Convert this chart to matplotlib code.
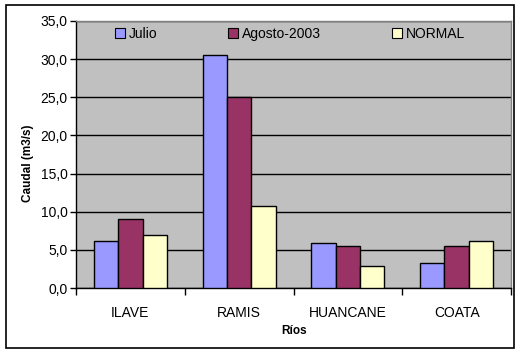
import matplotlib
matplotlib.use("Agg")
import matplotlib.pyplot as plt
import numpy as np
from matplotlib.patches import Rectangle, Patch

categories = ["ILAVE", "RAMIS", "HUANCANE", "COATA"]
series_names = ["Julio", "Agosto-2003", "NORMAL"]
julio = [6.1, 30.6, 5.9, 3.3]
agosto = [9.0, 25.0, 5.5, 5.5]
normal = [6.9, 10.8, 2.9, 6.1]
colors = ["#9999FF", "#993366", "#FFFFCC"]
yticks = [0, 5, 10, 15, 20, 25, 30, 35]
ytick_labels = ["0,0", "5,0", "10,0", "15,0", "20,0", "25,0", "30,0", "35,0"]

plt.rcParams['font.family'] = ['Liberation Sans', 'DejaVu Sans']

W, H = 520, 353
fig = plt.figure(figsize=(W / 100, H / 100), dpi=100)
ax = fig.add_axes([76 / W, 1 - 288 / H, (511 - 76) / W, (288 - 21) / H])
ax.set_facecolor("#C0C0C0")

x = np.arange(len(categories))
bw = 0.224
for i, (vals, c) in enumerate(zip([julio, agosto, normal], colors)):
    ax.bar(x + (i - 1) * bw, vals, bw, color=c, edgecolor="black", linewidth=1.0, zorder=3)

ax.set_xlim(-0.5, len(categories) - 0.5)
ax.set_ylim(0, 35)
ax.set_yticks(yticks)
ax.set_yticklabels(ytick_labels, fontsize=10)
ax.yaxis.grid(True, color="black", linewidth=1.0, zorder=1)
ax.set_axisbelow(True)

ax.set_xticks(x)
ax.set_xticklabels(categories, fontsize=10)
ax.tick_params(axis="x", length=0, pad=13)
ax.set_xticks(np.arange(-0.5, len(categories)), minor=True)
ax.tick_params(axis="x", which="minor", length=5, width=1, direction="out", color="black")
ax.tick_params(axis="y", length=4, width=1, direction="out", pad=2)

for s in ["top", "right"]:
    ax.spines[s].set_color("#808080")
    ax.spines[s].set_linewidth(1.0)
for s in ["left", "bottom"]:
    ax.spines[s].set_color("black")
    ax.spines[s].set_linewidth(1.0)

fig.text(294 / W, 1 - 331 / H, "Ríos", fontsize=8.5, fontweight="bold", ha="center", va="center")
fig.text(28 / W, 1 - 163 / H, "Caudal (m3/s)", fontsize=8.5, fontweight="bold",
         ha="center", va="center", rotation=90)

# legend entries
leg_pos = [115, 228, 392]
for name, c, px in zip(series_names, colors, leg_pos):
    fig.legend(handles=[Patch(facecolor=c, edgecolor="black", linewidth=0.8)], labels=[name],
               loc="center left", bbox_to_anchor=(px / W, 1 - 34 / H), frameon=False,
               fontsize=10, handlelength=0.7, handleheight=0.7, handletextpad=0.3,
               borderpad=0, borderaxespad=0)

fig.patches.append(Rectangle((6 / W, 1 - 348 / H), (514 - 6) / W, (348 - 5) / H,
                             transform=fig.transFigure, fill=False, edgecolor="black", linewidth=1.2))

fig.savefig("out.png", dpi=100)
